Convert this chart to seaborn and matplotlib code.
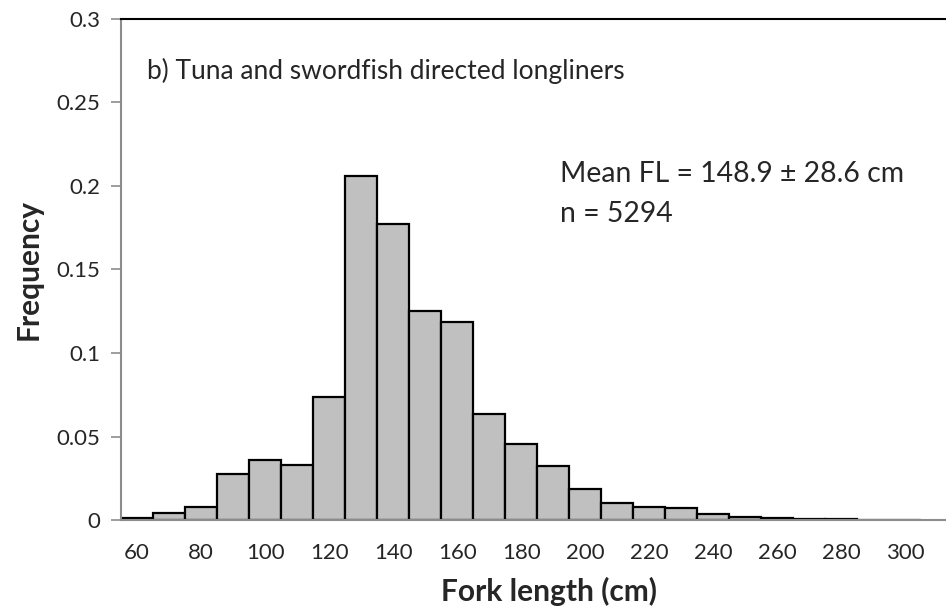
import matplotlib
matplotlib.use("Agg")
import matplotlib.pyplot as plt
import seaborn as sns
import pandas as pd

lengths = [60, 70, 80, 90, 100, 110, 120, 130, 140, 150, 160, 170, 180, 190, 200,
           210, 220, 230, 240, 250, 260, 270, 280, 290, 300]
freq = [0.0012, 0.0042, 0.0081, 0.0277, 0.0361, 0.0331, 0.0740, 0.2057, 0.1772,
        0.1249, 0.1186, 0.0637, 0.0457, 0.0326, 0.0188, 0.0105, 0.0081, 0.0075,
        0.0038, 0.0022, 0.0016, 0.0010, 0.0006, 0.0004, 0.0003]
y_ticks = [0, 0.05, 0.1, 0.15, 0.2, 0.25, 0.3]
y_ticklabels = ["0", "0.05", "0.1", "0.15", "0.2", "0.25", "0.3"]
title_text = "b) Tuna and swordfish directed longliners"
stats_text = ["Mean FL = 148.9 \u00b1 28.6 cm", "n = 5294"]

sns.set_style("white")
plt.rcParams['font.family'] = ['Lato', 'DejaVu Sans']

df = pd.DataFrame({"FL": [str(v) for v in lengths], "Frequency": freq})

W, H = 946, 611
fig = plt.figure(figsize=(W / 100, H / 100), dpi=100)
ax = fig.add_axes([121 / W, 1 - 520.3 / H, (W - 121 + 30) / W, (520.3 - 18.7) / H])

sns.barplot(data=df, x="FL", y="Frequency", order=df["FL"].tolist(), color="#c0c0c0",
            saturation=1, edgecolor="black", linewidth=1.6, width=1.0, ax=ax)
for p in ax.patches:
    p.set_facecolor("#c0c0c0")

ax.set_ylim(0, 0.3)
ax.set_xlim(-0.5, 24.5 + (W + 30 - 921.5) / 32.0)
ax.set_yticks(y_ticks)
ax.set_yticklabels(y_ticklabels)
ax.set_xticks(range(0, len(lengths), 2))
ax.set_xticklabels([str(v) for v in lengths[::2]])

ax.tick_params(axis="y", direction="out", length=7, width=1.2, color="#8c8c8c",
               labelsize=16, pad=8, left=True)
ax.tick_params(axis="x", length=0, labelsize=16, pad=16)

for s in ["left", "bottom"]:
    ax.spines[s].set_color("#8c8c8c")
    ax.spines[s].set_linewidth(1.5)
ax.spines["top"].set_color("black")
ax.spines["top"].set_linewidth(1.5)
ax.spines["right"].set_visible(False)
ax.grid(False)

ax.set_xlabel("Fork length (cm)", fontsize=21.5, fontweight="bold", labelpad=10)
ax.set_ylabel("Frequency", fontsize=21.5, fontweight="bold", labelpad=10)

fig.text(147 / W, 1 - 71 / H, title_text, fontsize=19, va="center", ha="left")
fig.text(560 / W, 1 - 174 / H, stats_text[0], fontsize=20.4, va="center", ha="left")
fig.text(560 / W, 1 - 214 / H, stats_text[1], fontsize=20.4, va="center", ha="left")

fig.savefig("out.png", dpi=100)
